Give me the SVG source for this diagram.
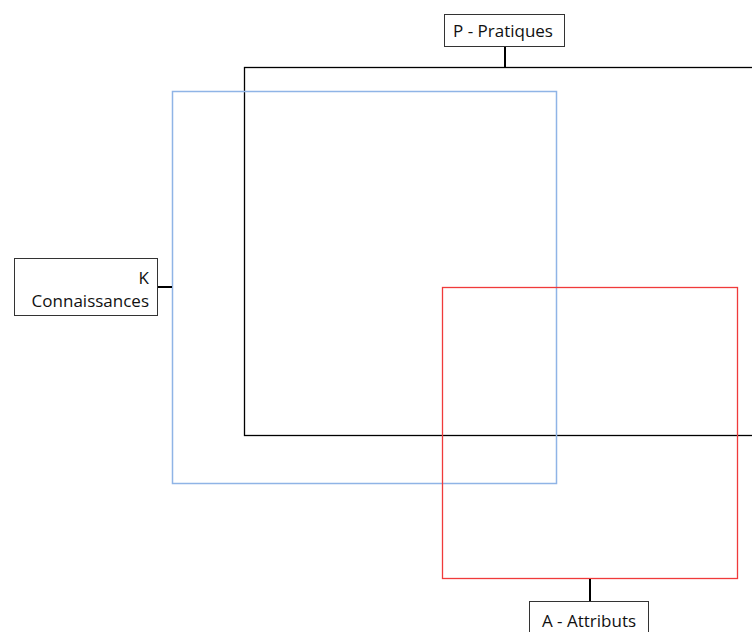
<svg xmlns="http://www.w3.org/2000/svg" width="752" height="632" viewBox="0 0 752 632">
<style>
.lbl{fill:#fff;stroke:#333;stroke-width:1}
.t{font-family:"Open Sans","Liberation Sans",sans-serif;font-size:17px;fill:#111}
.c{stroke:#000;stroke-width:2;fill:none}
</style>
<rect width="752" height="632" fill="#fff"/>
<g id="region-P"><rect x="244.5" y="67.5" width="520" height="368" fill="none" stroke="#000" stroke-width="1.3"/></g>
<g id="region-K"><rect x="172.5" y="91.5" width="384" height="392" fill="none" stroke="#8fb4e6" stroke-width="1.5"/></g>
<g id="region-A"><rect x="442.5" y="287.5" width="295" height="291" fill="none" stroke="#f03a3a" stroke-width="1.3"/></g>
<g id="connectors">
<line class="c" x1="505" y1="47" x2="505" y2="67"/>
<line class="c" x1="158" y1="287" x2="172" y2="287"/>
<line class="c" x1="590" y1="579" x2="590" y2="601"/>
</g>
<g id="label-P"><rect class="lbl" x="444.5" y="14.5" width="120" height="32"/><text class="t" x="503" y="37" text-anchor="middle">P - Pratiques</text></g>
<g id="label-K"><rect class="lbl" x="14.5" y="258.5" width="143" height="57"/><text class="t" x="149" y="284" text-anchor="end">K</text><text class="t" x="149" y="307" text-anchor="end">Connaissances</text></g>
<g id="label-A"><rect class="lbl" x="529.5" y="601.5" width="119" height="40"/><text class="t" x="589" y="627" text-anchor="middle">A - Attributs</text></g>
</svg>
